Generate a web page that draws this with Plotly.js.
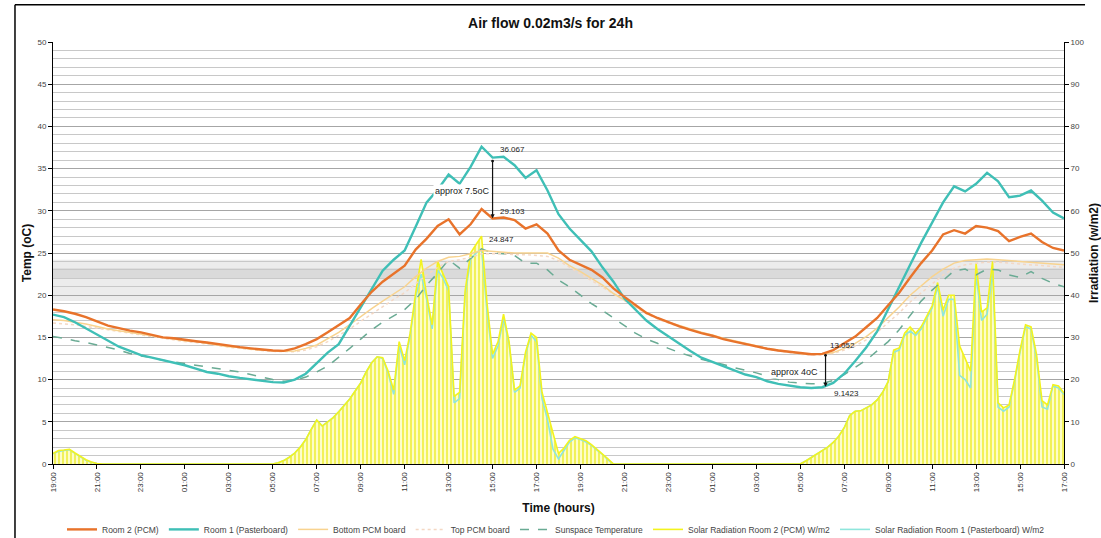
<!DOCTYPE html>
<html>
<head>
<meta charset="utf-8">
<script src="https://cdn.plot.ly/plotly-3.0.1.min.js"></script>
<style>
html,body{margin:0;padding:0;background:#fff;}
#chart{width:1101px;height:538px;}
</style>
</head>
<body>
<div id="chart"></div>
<script>
// ---- DATA ----
// time ticks (every 2 hours starting 19:00)
const tickHours = [0,2,4,6,8,10,12,14,16,18,20,22,24,26,28,30,32,34,36,38,40,42,44,46];
const tickLabels = ['19:00','21:00','23:00','01:00','03:00','05:00','07:00','09:00','11:00','13:00','15:00','17:00',
                    '19:00','21:00','23:00','01:00','03:00','05:00','07:00','09:00','11:00','13:00','15:00','17:00'];

// temperatures sampled every 30 min from 19:00 (hour 0) to 17:00 (hour 46)
const room2PCM = [18.3,18.1,17.8,17.4,16.9,16.4,16.1,15.8,15.6,15.3,15.0,14.9,14.7,14.55,14.4,14.2,14.0,13.85,13.7,13.55,13.45,13.4,
  13.7,14.2,14.8,15.6,16.4,17.3,18.9,20.4,21.6,22.5,23.5,25.4,26.7,28.2,29.0,27.2,28.4,30.2,29.1,29.2,28.9,27.9,28.4,27.3,
  25.3,24.2,23.6,23.0,22.1,20.8,19.8,18.8,17.9,17.3,16.8,16.3,15.9,15.5,15.2,14.8,14.5,14.2,13.9,13.65,13.45,13.3,13.1,13.0,
  13.05,13.5,14.3,15.1,16.2,17.3,18.8,20.3,22.1,23.8,25.3,27.2,27.7,27.3,28.2,28.0,27.6,26.4,26.9,27.3,26.3,25.6,25.3];
const room1Plaster = [17.7,17.4,16.8,16.1,15.3,14.6,13.9,13.4,12.9,12.6,12.3,12.0,11.7,11.3,10.9,10.7,10.4,10.2,10.05,9.9,9.7,9.65,
  10.0,10.7,11.9,13.2,14.2,16.4,18.5,20.8,22.9,24.2,25.3,28.1,31.0,32.5,34.3,33.2,35.2,37.6,36.3,36.4,35.4,33.9,34.8,32.4,
  29.6,27.9,26.6,25.2,23.3,21.6,19.6,18.3,17.0,16.0,15.1,14.3,13.4,12.6,12.1,11.6,11.1,10.6,10.3,9.8,9.5,9.3,9.1,9.0,
  9.1,9.6,10.7,12.2,13.8,15.7,18.4,21.0,23.6,26.2,28.6,31.0,32.9,32.3,33.2,34.5,33.5,31.6,31.8,32.4,31.2,29.8,29.1];
const bottomPCM = [17.1,17.0,16.8,16.6,16.3,16.0,15.8,15.6,15.4,15.2,15.0,14.8,14.6,14.5,14.3,14.1,13.9,13.8,13.6,13.5,13.4,13.35,
  13.4,13.7,14.1,14.8,15.6,16.5,17.5,18.4,19.3,20.1,21.0,22.2,23.2,24.0,24.5,24.6,24.9,25.3,25.2,25.1,25.0,25.0,25.0,25.0,
  24.4,23.5,22.8,22.0,21.2,20.2,19.4,18.6,17.9,17.3,16.8,16.4,16.0,15.6,15.3,14.9,14.6,14.3,14.0,13.7,13.5,13.3,13.1,13.0,
  13.0,13.2,13.7,14.3,15.1,16.1,17.3,18.6,20.0,21.1,22.2,23.1,23.8,24.1,24.2,24.3,24.2,24.1,24.0,23.9,23.8,23.7,23.6];
const topPCM = [16.7,16.6,16.5,16.3,16.1,15.9,15.7,15.5,15.3,15.1,14.9,14.7,14.5,14.4,14.2,14.0,13.85,13.7,13.55,13.45,13.35,13.3,
  13.3,13.5,13.9,14.5,15.2,16.0,16.9,17.8,18.7,19.5,20.3,21.4,22.4,23.3,24.0,24.2,24.5,24.9,24.9,24.9,24.8,24.8,24.7,24.6,
  24.1,23.3,22.6,21.8,21.0,20.1,19.3,18.5,17.8,17.2,16.7,16.3,15.9,15.5,15.2,14.8,14.5,14.2,13.9,13.6,13.4,13.2,13.0,12.9,
  12.9,13.1,13.5,14.0,14.7,15.6,16.7,17.9,19.2,20.3,21.4,22.4,23.2,23.6,23.8,23.9,23.9,23.8,23.7,23.6,23.5,23.4,23.3];
const sunspace = [15.1,14.9,14.6,14.4,14.1,13.8,13.5,13.1,12.8,12.6,12.3,12.1,11.9,11.7,11.5,11.3,11.1,10.9,10.6,10.3,10.0,9.8,
  9.9,10.3,10.9,11.6,12.6,13.7,14.8,15.9,16.8,17.6,18.3,19.5,21.2,22.6,24.2,23.2,24.3,25.5,25.0,24.9,24.7,23.8,23.8,23.0,
  21.8,21.0,20.0,19.0,18.2,17.3,16.4,15.5,14.8,14.3,13.7,13.2,12.8,12.4,12.1,11.8,11.4,11.1,10.8,10.4,10.0,9.7,9.6,9.5,
  9.55,9.9,10.6,11.4,12.3,13.4,14.5,15.9,17.6,19.3,20.6,21.7,22.9,23.1,22.4,23.1,23.0,22.4,22.1,22.8,22.0,21.4,21.0];

// solar radiation sampled every 15 min from hour 0 to hour 46 (W/m2)
const solarRoom2 = [2.5,3.2,3.3,3.5,2.6,1.7,1.0,0.5,0.1,
  0,0,0,0,0,0,0,0,0,0,0,0,0,0,0,0,0,0,0,0,0,0,0,0,0,0,0,0,0,0,0,0,
  0.3,0.8,1.6,2.6,4.0,5.8,8.2,10.4,9.0,10.0,11.0,12.4,13.8,15.4,17.3,19.2,21.8,24.0,25.4,25.2,
  22.0,17.5,29.0,24.5,31.0,40.5,48.5,40.0,33.0,48.0,45.0,42.0,16.0,17.0,41.0,50.0,52.0,54.0,38.0,26.0,
  29.0,35.5,29.0,17.5,18.5,26.5,31.0,30.0,17.0,12.0,7.0,2.5,3.8,5.6,6.5,6.0,5.5,4.6,3.5,2.5,1.2,0,
  0,0,0,0,0,0,0,0,0,0,0,0,0,0,0,0,0,0,0,0,0,0,0,0,0,0,0,0,0,0,0,0,0,0,
  0.7,1.5,2.3,3.1,4.0,5.1,6.6,8.6,11.5,12.5,12.6,13.3,14.0,15.2,17.0,19.5,27.0,27.5,31.0,32.5,31.0,32.5,35.0,37.5,
  43.0,36.5,40.0,40.0,28.0,25.0,22.0,47.5,36.0,37.0,48.0,14.5,13.3,14.0,20.0,27.0,33.0,32.5,26.0,15.0,14.0,18.8,18.5,16.8];
const solarRoom1 = [2.4,3.0,3.2,3.4,2.5,1.6,0.9,0.4,0.1,
  0,0,0,0,0,0,0,0,0,0,0,0,0,0,0,0,0,0,0,0,0,0,0,0,0,0,0,0,0,0,0,0,
  0.3,0.8,1.6,2.6,4.0,5.8,8.2,10.4,9.0,10.0,11.0,12.4,13.8,15.4,17.3,19.2,21.8,24.0,25.4,25.0,
  21.5,16.5,28.0,23.5,30.5,39.5,45.0,39.0,32.0,46.0,44.0,41.0,14.5,15.5,40.0,48.5,50.0,51.0,36.0,25.0,
  28.0,34.5,28.5,17.0,18.0,26.0,30.5,29.0,15.5,10.5,3.5,1.2,3.2,5.2,6.2,5.8,5.2,4.4,3.3,2.3,1.0,0,
  0,0,0,0,0,0,0,0,0,0,0,0,0,0,0,0,0,0,0,0,0,0,0,0,0,0,0,0,0,0,0,0,0,0,
  0.7,1.5,2.3,3.1,4.0,5.1,6.6,8.6,11.5,12.5,12.6,13.3,14.0,15.2,17.0,19.5,26.5,27.0,30.5,31.5,30.5,32.0,34.5,37.0,
  42.0,35.0,39.0,39.0,21.0,20.0,18.0,45.0,34.0,35.5,45.5,13.5,12.5,13.5,19.5,26.5,32.5,32.0,25.0,13.5,13.0,18.5,18.0,16.5];

// ---- time grids ----
const tempHours = room2PCM.map((v, i) => i * 0.5);
const solarHours = solarRoom2.map((v, i) => i * 0.25);

const FONT = 'Arial, "Liberation Sans", sans-serif';

const traces = [
  {x: solarHours, y: solarRoom2, yaxis: 'y', type: 'scatter', mode: 'lines', showlegend: false, hoverinfo: 'skip',
   line: {width: 0, color: '#f2f200'}, fill: 'tozeroy', fillcolor: '#fbfbb4',
   fillpattern: {shape: '|', fgcolor: '#eded2a', bgcolor: '#fdfdc8', size: 4, solidity: 0.35}},
  {x: solarHours, y: solarRoom1, yaxis: 'y', type: 'scatter', mode: 'lines', name: 'Solar Radiation Room 1 (Pasterboard) W/m2',
   legendrank: 7, line: {width: 1.6, color: '#8fe6dc'}},
  {x: solarHours, y: solarRoom2, yaxis: 'y', type: 'scatter', mode: 'lines', name: 'Solar Radiation Room 2 (PCM) W/m2',
   legendrank: 6, line: {width: 1.6, color: '#f3f31e'}},
  {x: tempHours, y: sunspace, yaxis: 'y2', type: 'scatter', mode: 'lines', name: 'Sunspace Temperature', legendrank: 5,
   line: {width: 1.5, color: '#6aab94', dash: 'dash'}},
  {x: tempHours, y: topPCM, yaxis: 'y2', type: 'scatter', mode: 'lines', name: 'Top PCM board', legendrank: 4,
   line: {width: 1.5, color: '#f4d8c4', dash: 'dot'}},
  {x: tempHours, y: bottomPCM, yaxis: 'y2', type: 'scatter', mode: 'lines', name: 'Bottom PCM board', legendrank: 3,
   line: {width: 1.5, color: '#f8d38f'}},
  {x: tempHours, y: room1Plaster, yaxis: 'y2', type: 'scatter', mode: 'lines', name: 'Room 1 (Pasterboard)', legendrank: 2,
   line: {width: 2.4, color: '#3fbfb6'}},
  {x: tempHours, y: room2PCM, yaxis: 'y2', type: 'scatter', mode: 'lines', name: 'Room 2 (PCM)', legendrank: 1,
   line: {width: 2.4, color: '#e8732b'}}
];

const annFont = {family: FONT, size: 8, color: '#222'};
const layout = {
  width: 1101, height: 538,
  margin: {l: 53, r: 37, t: 42, b: 74, autoexpand: false},
  paper_bgcolor: '#ffffff', plot_bgcolor: '#ffffff',
  font: {family: FONT, size: 9, color: '#333'},
  title: {text: 'Air flow 0.02m3/s for 24h', x: 0.5, xanchor: 'center', y: 0.957, yanchor: 'middle',
          font: {family: FONT, size: 14, weight: 'bold', color: '#111'}},
  showlegend: true,
  legend: {orientation: 'h', x: 0.505, xanchor: 'center', xref: 'container', y: 0.016, yanchor: 'middle', yref: 'container',
           font: {family: FONT, size: 8.5, color: '#444'}, itemwidth: 30, tracegroupgap: 0, traceorder: 'normal'},
  xaxis: {range: [0, 46], tickvals: tickHours, ticktext: tickLabels, tickangle: -90, automargin: false,
          tickfont: {family: FONT, size: 8, color: '#333'}, ticks: 'outside', ticklen: 4, tickcolor: '#000',
          showline: true, linecolor: '#000', linewidth: 1, showgrid: false, zeroline: false,
          title: {text: 'Time (hours)', font: {family: FONT, size: 12, weight: 'bold', color: '#111'}, standoff: 12}},
  yaxis: {range: [0, 100], side: 'right', dtick: 10, tick0: 0, automargin: false,
          tickfont: {family: FONT, size: 8, color: '#444'}, ticks: 'outside', ticklen: 4, tickcolor: '#000',
          showline: true, linecolor: '#000', linewidth: 1, zeroline: false,
          showgrid: true, gridcolor: '#a6a6a6', gridwidth: 1,
          minor: {dtick: 2, showgrid: true, gridcolor: '#c8c8c8', gridwidth: 1},
          title: {text: 'Irradiation (w/m2)', font: {family: FONT, size: 12, weight: 'bold', color: '#111'}, standoff: 6}},
  yaxis2: {range: [0, 50], side: 'left', overlaying: 'y', dtick: 5, tick0: 0, automargin: false,
           tickfont: {family: FONT, size: 8, color: '#444'}, ticks: 'outside', ticklen: 4, tickcolor: '#000',
           showline: true, linecolor: '#000', linewidth: 1, zeroline: false, showgrid: false,
           title: {text: 'Temp (oC)', font: {family: FONT, size: 12, weight: 'bold', color: '#111'}, standoff: 3}},
  shapes: [
    {type: 'rect', xref: 'paper', yref: 'y2', x0: 0, x1: 1, y0: 19.3, y1: 24.2, layer: 'below',
     fillcolor: '#ececec', line: {width: 0}},
    {type: 'rect', xref: 'paper', yref: 'y2', x0: 0, x1: 1, y0: 22.0, y1: 23.2, layer: 'below',
     fillcolor: '#dadada', line: {width: 0}},
    {type: 'line', xref: 'paper', yref: 'paper', x0: -0.0376, x1: -0.0376, y0: -0.2, y1: 1.088,
     line: {color: '#000', width: 1.5}},
    {type: 'line', xref: 'paper', yref: 'paper', x0: -0.0376, x1: 1.0208, y0: 1.088, y1: 1.088,
     line: {color: '#000', width: 1.5}}
  ],
  annotations: [
    {x: 20, y: 29.103, xref: 'x', yref: 'y2', ax: 20, ay: 36.067, axref: 'x', ayref: 'y2', text: '',
     showarrow: true, arrowhead: 2, arrowsize: 0.7, arrowwidth: 1.2, arrowcolor: '#111',
     startarrowhead: 6, startarrowsize: 0.6, arrowside: 'end+start'},
    {x: 35.15, y: 9.1423, xref: 'x', yref: 'y2', ax: 35.15, ay: 13.052, axref: 'x', ayref: 'y2', text: '',
     showarrow: true, arrowhead: 2, arrowsize: 0.7, arrowwidth: 1.2, arrowcolor: '#111',
     startarrowhead: 6, startarrowsize: 0.6, arrowside: 'end+start'},
    {x: 20.25, y: 37.3, xref: 'x', yref: 'y2', text: '36.067', showarrow: false, xanchor: 'left', font: annFont},
    {x: 20.25, y: 29.9, xref: 'x', yref: 'y2', text: '29.103', showarrow: false, xanchor: 'left', font: annFont},
    {x: 19.75, y: 26.6, xref: 'x', yref: 'y2', text: '24.847', showarrow: false, xanchor: 'left', font: annFont},
    {x: 18.62, y: 32.3, xref: 'x', yref: 'y2', text: 'approx 7.5oC', showarrow: false, xanchor: 'center',
     bgcolor: '#ffffff', font: {family: FONT, size: 9, color: '#222'}},
    {x: 35.25, y: 14.1, xref: 'x', yref: 'y2', text: '13.052', showarrow: false, xanchor: 'left', font: annFont},
    {x: 36.1, y: 8.4, xref: 'x', yref: 'y2', text: '9.1423', showarrow: false, xanchor: 'center', font: annFont},
    {x: 33.74, y: 10.9, xref: 'x', yref: 'y2', text: 'approx 4oC', showarrow: false, xanchor: 'center',
     bgcolor: '#ffffff', font: {family: FONT, size: 9, color: '#222'}}
  ]
};

Plotly.newPlot('chart', traces, layout, {displayModeBar: false, staticPlot: true});
</script>
</body>
</html>
